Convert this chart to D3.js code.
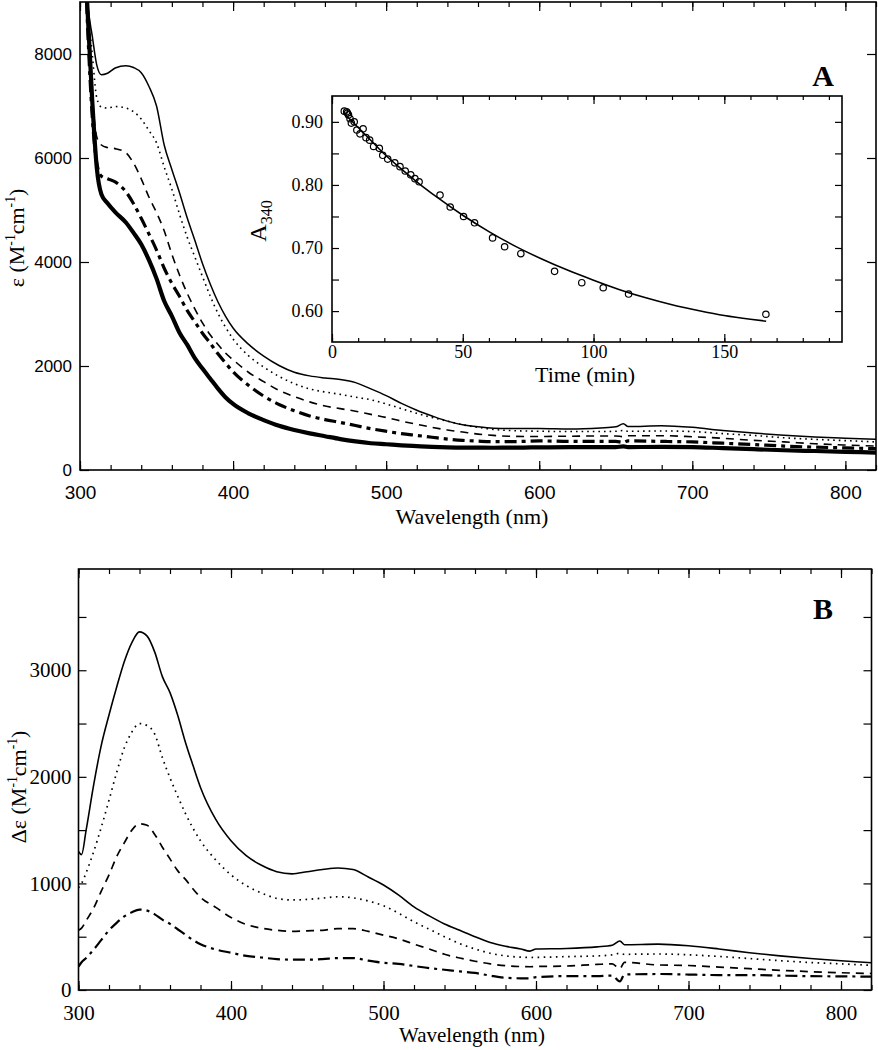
<!DOCTYPE html>
<html><head><meta charset="utf-8">
<script src="https://cdn.jsdelivr.net/npm/d3@7"></script>
<style>body{margin:0;background:#fff}</style>
</head><body><svg id="c" width="878" height="1050"></svg>
<script>
// ---------- Panel A data: extinction spectra ----------
const wavelengthsA = [303,305,308,311,314,318,323,330,335,340,345,350,355,360,365,370,375,380,385,390,395,400,
  410,420,430,440,450,460,470,480,490,500,510,520,530,540,550,560,570,580,590,600,
  620,640,650,655,658,680,700,720,740,760,780,800,820];
const epsA1 = [10000,9000,8350,7780,7600,7630,7730,7775,7740,7640,7380,7000,6250,5780,5330,4850,4420,3970,3580,3240,2960,2730,
  2420,2190,2010,1880,1810,1770,1740,1680,1560,1430,1280,1150,1040,940,870,830,805,800,800,800,
  790,810,830,890,835,850,820,760,710,670,635,610,590];
const epsA2 = [10000,9000,8000,7150,6980,6960,6990,6960,6890,6750,6530,6290,5830,5400,4920,4480,4100,3720,3350,3020,2750,2520,
  2200,1980,1800,1660,1560,1500,1455,1400,1350,1270,1180,1090,1010,940,870,820,780,760,750,745,
  740,740,745,760,745,750,740,700,665,620,590,565,540];
const epsA3 = [10000,8800,7200,6400,6250,6200,6180,6100,5900,5600,5250,4950,4600,4150,3750,3400,3100,2830,2600,2420,2250,2120,
  1880,1700,1530,1410,1310,1230,1180,1130,1070,1010,940,880,820,770,730,690,665,650,645,645,
  650,655,655,640,660,660,640,610,570,540,505,480,460];
const epsA4 = [10000,8500,6800,5900,5650,5600,5540,5350,5120,4840,4540,4230,3880,3590,3340,3070,2850,2630,2440,2240,2060,1890,
  1630,1420,1260,1140,1040,970,915,855,795,745,700,665,630,595,570,555,545,545,550,560,
  550,550,550,530,560,550,540,515,490,460,440,425,410];
const epsA5 = [10000,8800,7100,5800,5300,5130,4960,4760,4560,4340,4040,3680,3250,2960,2640,2410,2150,1950,1760,1570,1400,1270,
  1090,960,850,770,705,650,595,550,515,495,475,460,445,435,430,430,428,430,432,435,
  440,440,440,455,440,445,440,420,400,380,365,350,335];

// ---------- Panel B data: difference spectra ----------
const wavelengthsB = [300,302,305,310,315,320,325,330,335,340,345,350,355,360,365,370,375,380,
  390,400,410,420,430,440,450,460,470,480,490,500,510,520,530,540,550,560,570,580,590,596,600,
  620,640,650,655,658,680,700,720,740,760,780,800,820];
const dEpsB1 = [1300,1270,1500,1930,2300,2580,2840,3080,3260,3360,3320,3170,2940,2790,2580,2330,2110,1900,
  1600,1400,1260,1170,1110,1090,1110,1130,1145,1130,1060,985,890,780,695,620,560,500,445,410,385,365,385,
  390,405,420,460,425,430,415,385,350,320,295,275,255];
const dEpsB2 = [960,1000,1100,1300,1530,1780,2040,2270,2420,2500,2480,2400,2180,1990,1820,1660,1520,1400,
  1220,1080,980,910,860,845,850,862,875,865,835,790,720,640,570,500,435,385,345,320,308,305,306,
  313,320,330,345,335,338,330,315,295,275,258,245,232];
const dEpsB3 = [560,580,650,770,930,1080,1250,1380,1500,1560,1545,1460,1340,1230,1120,1040,950,870,
  775,680,615,580,560,550,555,560,575,575,550,515,480,430,385,335,300,270,245,228,220,218,220,
  225,240,245,200,260,235,230,215,200,185,172,162,155];
const dEpsB4 = [220,260,300,380,470,560,630,690,730,755,745,710,660,620,570,520,470,430,
  380,350,320,305,290,285,285,290,300,300,275,255,245,225,205,190,175,160,135,115,110,110,120,
  130,130,135,80,145,150,145,140,140,135,130,128,125];

// ---------- Inset data: A340 vs time ----------
const timePoints = [4.7,5.6,5.9,6.3,6.9,7.4,8.5,9.5,10.7,11.9,13.0,14.4,15.9,18.1,19.4,21.3,24.0,26.0,28.0,30.1,31.7,33.3,
  41.3,45.2,50.3,54.5,61.4,66.0,72.2,85.1,95.5,103.7,113.4,165.9];
const absPoints = [0.917,0.916,0.914,0.911,0.905,0.898,0.900,0.887,0.881,0.889,0.875,0.871,0.861,0.858,0.847,0.841,0.835,0.829,0.822,0.816,0.810,0.805,
  0.784,0.765,0.750,0.740,0.716,0.702,0.691,0.663,0.645,0.637,0.627,0.595];
const fitTime = [4.5,10,15,20,26,33,40,50,60,70,80,90,100,110,120,130,140,150,160,166];
const fitAbs = [0.914,0.891,0.870,0.849,0.827,0.803,0.781,0.752,0.726,0.703,0.683,0.665,0.649,0.634,0.621,0.610,0.601,0.593,0.587,0.584];

// ---------- ticks ----------
const xMajor = [300,400,500,600,700,800];
const xMinor = d3.range(300, 821, 20);
const yMajorA = [0,2000,4000,6000,8000];
const yTicksB = [0,500,1000,1500,2000,2500,3000,3500];
const yLabelsB = [0,1000,2000,3000];
const inXMajor = [0,50,100,150];
const inXMinor = d3.range(0, 196, 10);
const inYMajor = [0.60,0.70,0.80,0.90];
const inYMinor = [0.60,0.65,0.70,0.75,0.80,0.85,0.90];

const svg = d3.select('#c');
const SERIF = "'Liberation Serif','Times New Roman',serif";
const SANS = "'Liberation Sans',Arial,sans-serif";

function frameTicks(g, x, y, box, o) {
  const {l, r, t, b} = box;
  const noLab = () => '';
  g.append('g').attr('transform', `translate(0,${b})`)
    .call(d3.axisBottom(x).tickValues(o.xMinor).tickSize(-o.minLen).tickSizeOuter(0).tickFormat(noLab));
  const bx = g.append('g').attr('transform', `translate(0,${b})`)
    .call(d3.axisBottom(x).tickValues(o.xMajor).tickSize(-o.majLen).tickSizeOuter(0).tickPadding(o.xPad).tickFormat(o.xFmt));
  bx.selectAll('text').attr('font-family', o.xFont).attr('font-size', o.xSize).attr('fill', '#000');
  g.append('g').attr('transform', `translate(0,${t})`)
    .call(d3.axisTop(x).tickValues(o.xMinor).tickSize(-o.minLen).tickSizeOuter(0).tickFormat(noLab));
  g.append('g').attr('transform', `translate(0,${t})`)
    .call(d3.axisTop(x).tickValues(o.xMajor).tickSize(-o.majLen).tickSizeOuter(0).tickFormat(noLab));
  const ly = g.append('g').attr('transform', `translate(${l},0)`)
    .call(d3.axisLeft(y).tickValues(o.yMajor).tickSize(-o.yLen).tickSizeOuter(0).tickPadding(o.yPad)
      .tickFormat(d => o.yLabels.includes(d) ? o.yFmt(d) : ''));
  ly.selectAll('text').attr('font-family', o.yFont).attr('font-size', o.ySize).attr('fill', '#000');
  g.append('g').attr('transform', `translate(${r},0)`)
    .call(d3.axisRight(y).tickValues(o.yMajor).tickSize(-o.yLen).tickSizeOuter(0).tickFormat(noLab));
  g.selectAll('.domain').remove();
  g.selectAll('.tick line').attr('stroke', '#000').attr('stroke-width', 1.2);
  g.append('rect').attr('x', l).attr('y', t).attr('width', r - l).attr('height', b - t)
    .attr('fill', 'none').attr('stroke', '#000').attr('stroke-width', 1.6);
}

function drawSeries(g, x, y, xs, series, clipId) {
  series.forEach(s => {
    const pts = xs.map((w, i) => [w, s.vals[i]]);
    g.append('path').datum(pts)
      .attr('clip-path', `url(#${clipId})`)
      .attr('fill', 'none').attr('stroke', '#000')
      .attr('stroke-width', s.w).attr('stroke-dasharray', s.dash || null)
      .attr('stroke-linejoin', 'round')
      .attr('d', d3.line().x(d => x(d[0])).y(d => y(d[1])).curve(d3.curveMonotoneX));
  });
}

function addClip(id, box) {
  svg.append('clipPath').attr('id', id).append('rect')
    .attr('x', box.l).attr('y', box.t).attr('width', box.r - box.l).attr('height', box.b - box.t);
}

function unitLabel(g, cx, cy, prefix, size) {
  const t = g.append('text').attr('transform', `translate(${cx},${cy}) rotate(-90)`)
    .attr('text-anchor', 'middle').attr('font-family', SERIF).attr('font-size', size).attr('fill', '#000');
  const sup = size * 0.62;
  t.append('tspan').text(prefix + ' (M');
  t.append('tspan').attr('dy', -size * 0.4).attr('font-size', sup).text('-1');
  t.append('tspan').attr('dy', size * 0.4).text('cm');
  t.append('tspan').attr('dy', -size * 0.4).attr('font-size', sup).text('-1');
  t.append('tspan').attr('dy', size * 0.4).text(')');
}

// ================= Panel A =================
const boxA = {l: 80, r: 876, t: 2, b: 470};
const xA = d3.scaleLinear().domain([300, 820]).range([boxA.l, boxA.r]);
const yA = d3.scaleLinear().domain([0, 9000]).range([boxA.b, boxA.t]);
addClip('clipA', boxA);
const gA = svg.append('g');
drawSeries(gA, xA, yA, wavelengthsA, [
  {vals: epsA1, w: 1.5},
  {vals: epsA2, w: 1.6, dash: '1.6,4'},
  {vals: epsA3, w: 1.6, dash: '8,6'},
  {vals: epsA4, w: 3.2, dash: '12,5,4,5'},
  {vals: epsA5, w: 4.2}
], 'clipA');
frameTicks(gA, xA, yA, boxA, {
  xMajor, xMinor, majLen: 9, minLen: 5, xPad: 16, xFmt: d3.format('d'), xFont: SANS, xSize: 19,
  yMajor: yMajorA, yLabels: yMajorA, yLen: 9, yPad: 8, yFmt: d3.format('d'), yFont: SANS, ySize: 17
});
gA.append('text').attr('x', 472).attr('y', 524).attr('text-anchor', 'middle')
  .attr('font-family', SERIF).attr('font-size', 22).text('Wavelength (nm)');
unitLabel(gA, 24, 238, 'ε', 22);
gA.append('text').attr('x', 823).attr('y', 86).attr('text-anchor', 'middle')
  .attr('font-family', SERIF).attr('font-weight', 'bold').attr('font-size', 30).text('A');

// ================= Inset =================
const boxI = {l: 332, r: 842, t: 96, b: 342};
const xI = d3.scaleLinear().domain([0, 195]).range([boxI.l, boxI.r]);
const yI = d3.scaleLinear().domain([0.551, 0.941]).range([boxI.b, boxI.t]);
const gI = svg.append('g');
gI.append('rect').attr('x', boxI.l).attr('y', boxI.t).attr('width', boxI.r - boxI.l).attr('height', boxI.b - boxI.t).attr('fill', '#fff');
gI.append('path').datum(fitTime.map((t, i) => [t, fitAbs[i]]))
  .attr('fill', 'none').attr('stroke', '#000').attr('stroke-width', 1.6)
  .attr('d', d3.line().x(d => xI(d[0])).y(d => yI(d[1])).curve(d3.curveMonotoneX));
gI.selectAll('circle.pt').data(timePoints.map((t, i) => [t, absPoints[i]])).join('circle')
  .attr('class', 'pt').attr('cx', d => xI(d[0])).attr('cy', d => yI(d[1])).attr('r', 3.2)
  .attr('fill', 'none').attr('stroke', '#000').attr('stroke-width', 1.2);
frameTicks(gI, xI, yI, boxI, {
  xMajor: inXMajor, xMinor: inXMinor, majLen: 8, minLen: 4, xPad: 3, xFmt: d3.format('d'), xFont: SERIF, xSize: 18,
  yMajor: inYMinor, yLabels: inYMajor, yLen: 7, yPad: 9, yFmt: d3.format('.2f'), yFont: SERIF, ySize: 18
});
gI.append('text').attr('x', 585).attr('y', 382).attr('text-anchor', 'middle')
  .attr('font-family', SERIF).attr('font-size', 22).text('Time (min)');
const a340 = gI.append('text').attr('transform', 'translate(266,221) rotate(-90)').attr('text-anchor', 'middle')
  .attr('font-family', SERIF).attr('font-size', 24);
a340.append('tspan').text('A');
a340.append('tspan').attr('dy', 6).attr('font-size', 16).text('340');

// ================= Panel B =================
const boxB = {l: 78.5, r: 871.5, t: 569, b: 990};
const xB = d3.scaleLinear().domain([300, 820]).range([boxB.l, boxB.r]);
const yB = d3.scaleLinear().domain([0, 3950]).range([boxB.b, boxB.t]);
addClip('clipB', boxB);
const gB = svg.append('g');
drawSeries(gB, xB, yB, wavelengthsB, [
  {vals: dEpsB1, w: 1.6},
  {vals: dEpsB2, w: 1.7, dash: '1.6,4.5'},
  {vals: dEpsB3, w: 1.7, dash: '8,6'},
  {vals: dEpsB4, w: 2.2, dash: '12,5,3,5'}
], 'clipB');
frameTicks(gB, xB, yB, boxB, {
  xMajor, xMinor, majLen: 9, minLen: 5, xPad: 15, xFmt: d3.format('d'), xFont: SERIF, xSize: 21,
  yMajor: yTicksB, yLabels: yLabelsB, yLen: 8, yPad: 7, yFmt: d3.format('d'), yFont: SERIF, ySize: 21
});
gB.append('text').attr('x', 472).attr('y', 1042).attr('text-anchor', 'middle')
  .attr('font-family', SERIF).attr('font-size', 21).text('Wavelength (nm)');
unitLabel(gB, 26, 787, 'Δε', 22);
gB.append('text').attr('x', 823).attr('y', 619).attr('text-anchor', 'middle')
  .attr('font-family', SERIF).attr('font-weight', 'bold').attr('font-size', 30).text('B');
</script></body></html>
